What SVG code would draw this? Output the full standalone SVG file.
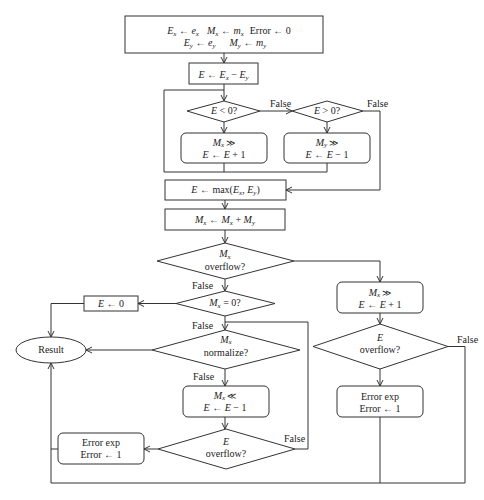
<svg xmlns="http://www.w3.org/2000/svg" width="484" height="500" viewBox="0 0 484 500">
<style>
  text{font-family:"Liberation Serif","Times New Roman",serif;font-size:10px;fill:#222;}
  .c{text-anchor:middle;}
  .i{font-style:italic;}
  .s{font-size:7px;font-style:italic;}
  .op{font-size:9px;}
  .shape{fill:#fff;stroke:#333;stroke-width:1;}
  .ln{fill:none;stroke:#333;stroke-width:1;}
  .arr{fill:none;stroke:#333;stroke-width:1;marker-end:url(#ah);}
</style>
<defs>
  <marker id="ah" markerWidth="8" markerHeight="8" refX="7" refY="4" orient="auto" markerUnits="userSpaceOnUse">
    <path d="M1,1 L7,4 L1,7" fill="none" stroke="#333" stroke-width="1"/>
  </marker>
</defs>
<rect width="484" height="500" fill="#fff"/>

<g id="connectors">
  <line class="arr" x1="224" y1="53" x2="224" y2="63"/>
  <line class="ln" x1="224" y1="84" x2="224" y2="90"/>
  <polyline class="ln" points="224,163 224,172 164,172 164,90 224,90"/>
  <polyline class="ln" points="327,163 327,172 224,172"/>
  <line class="arr" x1="224" y1="90" x2="224" y2="101"/>
  <line class="arr" x1="260" y1="111" x2="292" y2="111"/>
  <line class="arr" x1="224" y1="122" x2="224" y2="133"/>
  <line class="arr" x1="327" y1="122" x2="327" y2="133"/>
  <polyline class="arr" points="363,111 380,111 380,190 286,190"/>
  <line class="arr" x1="225" y1="200" x2="225" y2="209"/>
  <line class="arr" x1="225" y1="230" x2="225" y2="243"/>
  <polyline class="arr" points="294,261 380,261 380,282"/>
  <line class="arr" x1="225" y1="279" x2="225" y2="291"/>
  <line class="arr" x1="176" y1="303.5" x2="138" y2="303.5"/>
  <polyline class="arr" points="84,303.5 51,303.5 51,337"/>
  <line class="arr" x1="225" y1="316" x2="225" y2="330"/>
  <line class="arr" x1="152" y1="350" x2="86" y2="350"/>
  <line class="arr" x1="225" y1="369" x2="225" y2="386"/>
  <line class="arr" x1="225" y1="417" x2="225" y2="429"/>
  <line class="arr" x1="158" y1="449" x2="144" y2="449"/>
  <polyline class="ln" points="295,449 308,449 308,322 225,322"/>
  <line class="ln" x1="58" y1="449" x2="51" y2="449"/>
  <line class="arr" x1="380" y1="313" x2="380" y2="324"/>
  <line class="arr" x1="380" y1="369" x2="380" y2="386"/>
  <polyline class="ln" points="448,346.5 465,346.5 465,483"/>
  <line class="ln" x1="380" y1="417" x2="380" y2="483"/>
  <polyline class="arr" points="465,483 51,483 51,363"/>
</g>

<g id="init">
  <rect class="shape" x="125" y="16" width="198" height="37"/>
  <text class="c" x="229" y="34"><tspan class="i">E</tspan><tspan class="s" dy="1.5">x</tspan><tspan dy="-1.5"> ← </tspan><tspan class="i">e</tspan><tspan class="s" dy="1.5">x</tspan><tspan class="i" dx="8" dy="-1.5">M</tspan><tspan class="s" dy="1.5">x</tspan><tspan dy="-1.5"> ← </tspan><tspan class="i">m</tspan><tspan class="s" dy="1.5">x</tspan><tspan dx="6" dy="-1.5">Error ← 0</tspan></text>
  <text class="c" x="225" y="46"><tspan class="i">E</tspan><tspan class="s" dy="1.5">y</tspan><tspan dy="-1.5"> ← </tspan><tspan class="i">e</tspan><tspan class="s" dy="1.5">y</tspan><tspan class="i" dx="14" dy="-1.5">M</tspan><tspan class="s" dy="1.5">y</tspan><tspan dy="-1.5"> ← </tspan><tspan class="i">m</tspan><tspan class="s" dy="1.5">y</tspan></text>
</g>

<g id="diff">
  <rect class="shape" x="189" y="63" width="69" height="21"/>
  <text class="c" x="223.5" y="78"><tspan class="i">E</tspan> ← <tspan class="i">E</tspan><tspan class="s" dy="1.5">x</tspan><tspan dy="-1.5"> − </tspan><tspan class="i">E</tspan><tspan class="s" dy="1.5">y</tspan></text>
</g>

<g id="d-eneg">
  <polygon class="shape" points="187,111 224,101 260,111 224,122"/>
  <text class="c" x="224" y="114"><tspan class="i">E</tspan> &lt; 0?</text>
  <text x="270" y="107">False</text>
</g>

<g id="d-epos">
  <polygon class="shape" points="292,111 327,101 363,111 327,122"/>
  <text class="c" x="327" y="114"><tspan class="i">E</tspan> &gt; 0?</text>
  <text x="367" y="107">False</text>
</g>

<g id="shift-mx">
  <rect class="shape" x="181" y="133" width="86" height="30" rx="5"/>
  <text class="c" x="224" y="145.5"><tspan class="i">M</tspan><tspan class="s" dy="1.5">x</tspan><tspan class="op" dy="-1.5"> ≫</tspan></text>
  <text class="c" x="224" y="157.5"><tspan class="i">E</tspan> ← <tspan class="i">E</tspan> + 1</text>
</g>

<g id="shift-my">
  <rect class="shape" x="284" y="133" width="86" height="30" rx="5"/>
  <text class="c" x="327" y="145.5"><tspan class="i">M</tspan><tspan class="s" dy="1.5">y</tspan><tspan class="op" dy="-1.5"> ≫</tspan></text>
  <text class="c" x="327" y="157.5"><tspan class="i">E</tspan> ← <tspan class="i">E</tspan> − 1</text>
</g>

<g id="max">
  <rect class="shape" x="165" y="180" width="121" height="20"/>
  <text class="c" x="225.5" y="193"><tspan class="i">E</tspan> ← max(<tspan class="i">E</tspan><tspan class="s" dy="1.5">x</tspan><tspan dy="-1.5">, </tspan><tspan class="i">E</tspan><tspan class="s" dy="1.5">y</tspan><tspan dy="-1.5">)</tspan></text>
</g>

<g id="add">
  <rect class="shape" x="165" y="209" width="120" height="21"/>
  <text class="c" x="225" y="223"><tspan class="i">M</tspan><tspan class="s" dy="1.5">x</tspan><tspan dy="-1.5"> ← </tspan><tspan class="i">M</tspan><tspan class="s" dy="1.5">x</tspan><tspan dy="-1.5"> + </tspan><tspan class="i">M</tspan><tspan class="s" dy="1.5">y</tspan></text>
</g>

<g id="d-mxovf">
  <polygon class="shape" points="157,261 225,243 294,261 225,279"/>
  <text class="c" x="225" y="257"><tspan class="i">M</tspan><tspan class="s" dy="1.5">x</tspan></text>
  <text class="c" x="225" y="269.5">overflow?</text>
  <text x="192" y="289">False</text>
</g>

<g id="d-mxzero">
  <polygon class="shape" points="176,303.5 225,291 275,303.5 225,316"/>
  <text class="c" x="225" y="306"><tspan class="i">M</tspan><tspan class="s" dy="1.5">x</tspan><tspan dy="-1.5"> = 0?</tspan></text>
  <text x="192" y="329">False</text>
</g>

<g id="ezero">
  <rect class="shape" x="84" y="296" width="54" height="15"/>
  <text class="c" x="111" y="307"><tspan class="i">E</tspan> ← 0</text>
</g>

<g id="result">
  <ellipse class="shape" cx="51" cy="350" rx="35" ry="13"/>
  <text class="c" x="51" y="353">Result</text>
</g>

<g id="d-norm">
  <polygon class="shape" points="152,350 225,330 300,350 225,369"/>
  <text class="c" x="226" y="342.5"><tspan class="i">M</tspan><tspan class="s" dy="1.5">x</tspan></text>
  <text class="c" x="226" y="355.5">normalize?</text>
  <text x="193" y="380">False</text>
</g>

<g id="shl">
  <rect class="shape" x="183" y="386" width="86" height="31" rx="5"/>
  <text class="c" x="225" y="398.5"><tspan class="i">M</tspan><tspan class="s" dy="1.5">x</tspan><tspan class="op" dy="-1.5"> ≪</tspan></text>
  <text class="c" x="225" y="411"><tspan class="i">E</tspan> ← <tspan class="i">E</tspan> − 1</text>
</g>

<g id="d-eovf-left">
  <polygon class="shape" points="158,449 226,429 295,449 226,469"/>
  <text class="c" x="226" y="445"><tspan class="i">E</tspan></text>
  <text class="c" x="226" y="456.5">overflow?</text>
  <text x="284" y="442">False</text>
</g>

<g id="err-left">
  <rect class="shape" x="58" y="433" width="86" height="31" rx="5"/>
  <text class="c" x="101" y="446">Error exp</text>
  <text class="c" x="101" y="458">Error ← 1</text>
</g>

<g id="shr">
  <rect class="shape" x="337" y="282" width="86" height="31" rx="5"/>
  <text class="c" x="380" y="295.5"><tspan class="i">M</tspan><tspan class="s" dy="1.5">x</tspan><tspan class="op" dy="-1.5"> ≫</tspan></text>
  <text class="c" x="380" y="307.5"><tspan class="i">E</tspan> ← <tspan class="i">E</tspan> + 1</text>
</g>

<g id="d-eovf-right">
  <polygon class="shape" points="313,346.5 380,324 448,346.5 380,369"/>
  <text class="c" x="380" y="341"><tspan class="i">E</tspan></text>
  <text class="c" x="380" y="352.5">overflow?</text>
  <text x="457" y="343">False</text>
</g>

<g id="err-right">
  <rect class="shape" x="337" y="386" width="86" height="31" rx="5"/>
  <text class="c" x="380" y="400">Error exp</text>
  <text class="c" x="380" y="412">Error ← 1</text>
</g>
</svg>
